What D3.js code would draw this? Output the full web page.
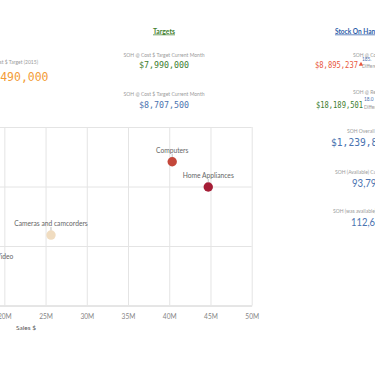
<!DOCTYPE html>
<html><head><meta charset="utf-8">
<script src="https://cdn.jsdelivr.net/npm/d3@7/dist/d3.min.js"></script>
<style>html,body{margin:0;padding:0;background:#fff;overflow:hidden}svg{display:block}</style>
</head><body>
<script>
// ---- data ----
const categories = ["Computers", "Home Appliances", "Cameras and camcorders", "TV and Video"];
const salesValues = [40.36e6, 44.73e6, 25.66e6, 18.7e6];
const yValues = [12.08e6, 9.96e6, 5.92e6, 3.15e6];
const pointColors = ["#c4473a", "#a51d36", "#f0dcc0", "#e9a27a"];
const xTickValues = [15e6, 20e6, 25e6, 30e6, 35e6, 40e6, 45e6, 50e6];
const yTickValues = [0, 5e6, 10e6, 15e6];
const xAxisTitle = "Sales $";

const sectionTitles = ["Targets", "Stock On Hand"];
const targetLabels = ["SOH @ Cost $ Target (2015)", "SOH @ Cost $ Target Current Month", "SOH @ Cost $ Target Current Month"];
const targetValues = ["$8,490,000", "$7,990,000", "$8,707,500"];
const stockLabels = ["SOH @ Cost $ Current Month", "SOH @ Retail $ Current Month", "SOH Overall", "SOH (Available) Current Month", "SOH (was available) Last Month"];
const stockValues = ["$8,895,237", "$18,189,501", "$1,239,851", "93,795", "112,640"];
const stockDiffs = ["185.", "18.0"];
const diffLabel = "Difference";

// ---- drawing ----
const W = 375, H = 375;
const svg = d3.select("body").append("svg").attr("width", W).attr("height", H);
const sans = "Lato, 'Open Sans', sans-serif";
const mono = "'DejaVu Sans Mono', monospace";
const gray = "#9a9a9a";

function txt(x, y, s, o) {
  const t = svg.append("text").attr("x", x).attr("y", y).text(s)
    .attr("font-family", o.font || sans).attr("font-size", o.size)
    .attr("fill", o.fill).attr("text-anchor", o.anchor || "start");
  if (o.weight) t.attr("font-weight", o.weight);
  if (o.len) t.attr("textLength", o.len).attr("lengthAdjust", "spacingAndGlyphs");
  if (o.underline) t.attr("text-decoration", "underline");
  return t;
}

// section titles
txt(164, 33.5, sectionTitles[0], {size: 7.2, fill: "#3f7f2f", anchor: "middle", weight: "bold", underline: true, len: 22});
txt(335, 33.5, sectionTitles[1], {size: 7.2, fill: "#2d5da8", weight: "bold", underline: true, len: 44});

// left target column
txt(38, 64, targetLabels[0], {size: 5, fill: gray, anchor: "end"});
txt(48.5, 80.5, targetValues[0], {size: 11.5, fill: "#f39c38", anchor: "end", font: mono, len: 69});

// targets column
txt(164, 57, targetLabels[1], {size: 5, fill: gray, anchor: "middle", len: 81});
txt(164, 67.8, targetValues[1], {size: 9.5, fill: "#3d7d2e", anchor: "middle", font: mono, len: 50});
txt(164, 96, targetLabels[2], {size: 5, fill: gray, anchor: "middle", len: 81});
txt(164, 107.8, targetValues[2], {size: 9.5, fill: "#4a73b0", anchor: "middle", font: mono, len: 50});

// stock column
txt(353, 56.5, stockLabels[0], {size: 5, fill: gray});
txt(315, 67.5, stockValues[0], {size: 9.5, fill: "#e9573c", font: mono, len: 43});
svg.append("path").attr("d", d3.symbol().type(d3.symbolTriangle).size(9)()).attr("transform", "translate(361,64.5)").attr("fill", "#e9573c");
txt(362, 61, stockDiffs[0], {size: 4.8, fill: "#4a73b0"});
txt(362, 67.5, diffLabel, {size: 4.8, fill: gray});

txt(353, 93.5, stockLabels[1], {size: 5, fill: gray});
txt(316, 107.5, stockValues[1], {size: 9.5, fill: "#3d7d2e", font: mono, len: 47});
txt(364, 100.5, stockDiffs[1], {size: 4.8, fill: "#4a73b0"});
txt(364, 108.5, diffLabel, {size: 4.8, fill: gray});

txt(347, 133, stockLabels[2], {size: 5, fill: gray});
txt(331, 146, stockValues[2], {size: 10.5, fill: "#4a73b0", font: mono, len: 58});
txt(335, 173.5, stockLabels[3], {size: 5, fill: gray});
txt(352, 186.5, stockValues[3], {size: 10.5, fill: "#4a73b0", len: 30});
txt(333, 213, stockLabels[4], {size: 5, fill: gray});
txt(351, 225.5, stockValues[4], {size: 10.5, fill: "#4a73b0", len: 35});

// scatter
const x = d3.scaleLinear().domain([15e6, 50e6]).range([-36.9, 251.7]);
const y = d3.scaleLinear().domain([0, 15e6]).range([305.5, 127]);
const fmtM = d => (d / 1e6) + "M";

const gx = svg.append("g").attr("transform", "translate(0,305.5)")
  .call(d3.axisBottom(x).tickValues(xTickValues).tickFormat(fmtM)
    .tickSizeInner(-(305.5 - 127)).tickSizeOuter(0).tickPadding(8.5));
gx.selectAll(".tick line").attr("stroke", "#e4e4e4").attr("stroke-width", 1);
gx.select(".domain").attr("stroke", "#d0d0d0");
gx.selectAll(".tick text").attr("font-family", sans).attr("font-size", 6.6).attr("fill", "#858585");

const gy = svg.append("g").attr("transform", "translate(-36.9,0)")
  .call(d3.axisLeft(y).tickValues(yTickValues).tickFormat(fmtM)
    .tickSizeInner(-(251.7 + 36.9)).tickSizeOuter(0));
gy.selectAll(".tick line").attr("stroke", "#e4e4e4");
gy.select(".domain").attr("stroke", "none");
gy.selectAll(".tick text").attr("font-family", sans).attr("font-size", 6.5).attr("fill", "#808080");

txt(16, 329.5, xAxisTitle, {size: 6.5, fill: "#555"});

const pts = categories.map((c, i) => ({c, sx: salesValues[i], sy: yValues[i], col: pointColors[i]}));
const gp = svg.append("g");
gp.selectAll("circle").data(pts).enter().append("circle")
  .attr("cx", d => x(d.sx)).attr("cy", d => y(d.sy)).attr("r", 4.7).attr("fill", d => d.col);
gp.selectAll("line.lbl").data(pts).enter().append("line")
  .attr("x1", d => x(d.sx)).attr("x2", d => x(d.sx))
  .attr("y1", d => y(d.sy) - 4.7).attr("y2", d => y(d.sy) - 8)
  .attr("stroke", "#999").attr("stroke-width", 0.6);
gp.selectAll("text").data(pts).enter().append("text")
  .attr("x", d => x(d.sx)).attr("y", d => y(d.sy) - 8.8)
  .attr("text-anchor", "middle").attr("font-family", sans).attr("font-size", 6.7).attr("fill", "#666")
  .text(d => d.c);
</script>
</body></html>
